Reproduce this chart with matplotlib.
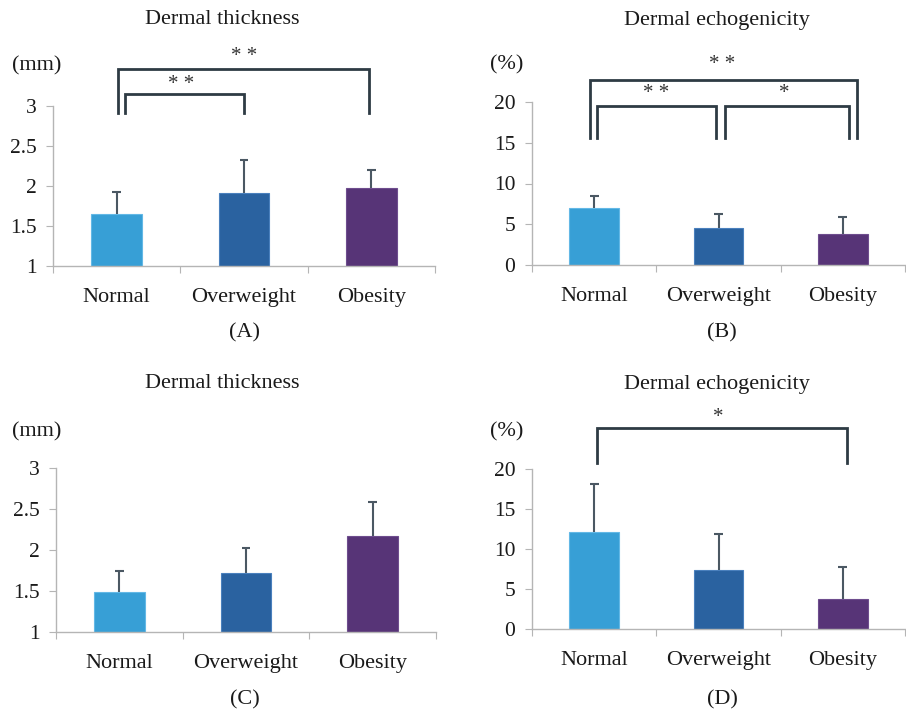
import matplotlib
matplotlib.use("Agg")
import matplotlib.pyplot as plt
import numpy as np

plt.rcParams['font.family'] = ['Liberation Serif', 'DejaVu Serif']

categories = ["Normal", "Overweight", "Obesity"]
colors = ["#379fd6", "#2a62a0", "#573477"]
edge_colors = ["#63b8e6", "#4a80bd", "#6e4d8e"]

# Panel A: dermal thickness (mm)
a_mean = [1.65, 1.91, 1.98]
a_err = [0.27, 0.42, 0.22]
# Panel B: dermal echogenicity (%)
b_mean = [7.0, 4.5, 3.8]
b_err = [1.5, 1.8, 2.1]
# Panel C: dermal thickness (mm)
c_mean = [1.49, 1.72, 2.17]
c_err = [0.26, 0.30, 0.42]
# Panel D: dermal echogenicity (%)
d_mean = [12.1, 7.4, 3.8]
d_err = [6.0, 4.5, 3.9]

W, H = 906, 714
fig = plt.figure(figsize=(W / 100, H / 100), dpi=100)


def px_axes(left, right, top, bottom):
    return fig.add_axes([left / W, 1 - bottom / H, (right - left) / W, (bottom - top) / H])


FS = 16
FSY = 15.5
TXT = "#1a1a1a"
BR = "#2e3b44"
ERR = "#4b5863"


def draw_panel(ax, means, errs, ymin, ymax, step):
    x = np.arange(len(categories))
    ax.bar(x, [m - ymin for m in means], bottom=ymin, width=0.4, color=colors,
           edgecolor=edge_colors, linewidth=0.8, zorder=2)
    tops = [m + e for m, e in zip(means, errs)]
    ax.vlines(x, means, tops, color=ERR, lw=1.5, zorder=3)
    ax.hlines(tops, x - 0.035, x + 0.035, color=ERR, lw=1.5, zorder=3)
    ax.set_xlim(-0.5, 2.5)
    ax.set_ylim(ymin, ymax)
    yt = np.arange(ymin, ymax + step / 2, step)
    ax.set_yticks(yt)
    ax.set_yticklabels([f"{v:g}" for v in yt], fontsize=FSY, color=TXT)
    ax.set_xticks([-0.5, 0.5, 1.5, 2.5])
    ax.set_xticklabels([])
    ax.set_xticks(x, minor=True)
    ax.set_xticklabels(categories, minor=True, fontsize=FS, color=TXT)
    ax.tick_params(axis='x', which='major', length=5, color="#b5b5b5", direction='out')
    ax.tick_params(axis='x', which='minor', length=0, pad=16)
    ax.tick_params(axis='y', length=5, color="#b5b5b5", pad=7)
    for s in ['top', 'right']:
        ax.spines[s].set_visible(False)
    for s in ['left', 'bottom']:
        ax.spines[s].set_color("#b5b5b5")
        ax.spines[s].set_linewidth(1.0)
    return ax


def bracket(ax, x0, x1, ytop, ybot):
    ax.plot([x0, x0, x1, x1], [ybot, ytop, ytop, ybot], color=BR, lw=2.0,
            clip_on=False, solid_joinstyle='miter', zorder=4)


def star(ax, xc, y, s):
    ax.text(xc, y, s, ha='center', va='center', fontsize=15, color="#333333", clip_on=False)


# Panel A
axA = px_axes(53, 435, 106, 266)
draw_panel(axA, a_mean, a_err, 1, 3, 0.5)
bracket(axA, 0.01, 1.98, 3.46, 2.91)
bracket(axA, 0.065, 1.0, 3.15, 2.91)
star(axA, 1.0, 3.62, "* *")
star(axA, 0.51, 3.27, "* *")

# Panel B
axB = px_axes(532, 905, 102, 265)
draw_panel(axB, b_mean, b_err, 0, 20, 5)
bracket(axB, -0.03, 2.11, 22.7, 15.6)
bracket(axB, 0.024, 0.98, 19.5, 15.6)
bracket(axB, 1.05, 2.05, 19.5, 15.6)
star(axB, 1.03, 24.6, "* *")
star(axB, 0.5, 21.0, "* *")
star(axB, 1.53, 21.0, "*")

# Panel C
axC = px_axes(56, 436, 468, 632)
draw_panel(axC, c_mean, c_err, 1, 3, 0.5)

# Panel D
axD = px_axes(532, 905, 469, 629)
draw_panel(axD, d_mean, d_err, 0, 20, 5)
bracket(axD, 0.02, 2.03, 25.1, 20.75)
star(axD, 1.0, 26.5, "*")


def ftext(xp, yp, s, ha='center', fs=FS):
    fig.text(xp / W, 1 - yp / H, s, ha=ha, va='center', fontsize=fs, color=TXT)


ftext(222, 20, "Dermal thickness")
ftext(717, 20, "Dermal echogenicity")
ftext(222, 384, "Dermal thickness")
ftext(717, 384, "Dermal echogenicity")
ftext(37, 66, "(mm)")
ftext(507, 65, "(%)")
ftext(37, 432, "(mm)")
ftext(507, 432, "(%)")
ftext(245, 333, "(A)")
ftext(722, 333, "(B)")
ftext(245, 700, "(C)")
ftext(722, 700, "(D)")

fig.savefig("out.png", dpi=100, facecolor="white")
